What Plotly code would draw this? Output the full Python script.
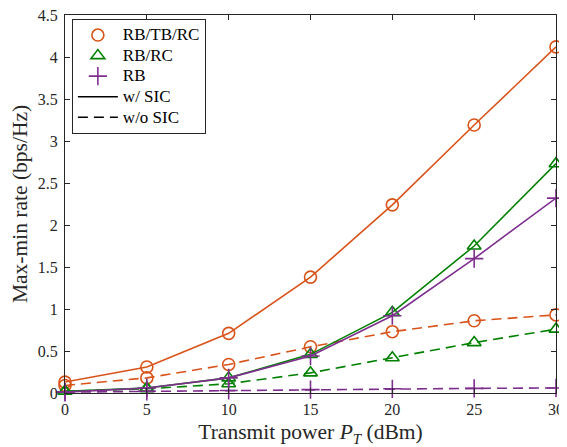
import plotly.graph_objects as go

power_dbm = [0, 5, 10, 15, 20, 25, 30]

rbtbrc_sic = [0.13, 0.31, 0.71, 1.38, 2.24, 3.19, 4.12]
rbtbrc_nosic = [0.09, 0.18, 0.34, 0.55, 0.73, 0.86, 0.93]
rbrc_sic = [0.02, 0.06, 0.18, 0.46, 0.96, 1.75, 2.73]
rbrc_nosic = [0.02, 0.05, 0.11, 0.24, 0.42, 0.60, 0.76]
rb_sic = [0.01, 0.06, 0.18, 0.44, 0.92, 1.60, 2.32]
rb_nosic = [0.01, 0.02, 0.03, 0.04, 0.05, 0.055, 0.06]

schemes = ["RB/TB/RC", "RB/RC", "RB"]
sic_labels = ["w/ SIC", "w/o SIC"]

colors = ["#D95319", "#008000", "#7E2F8E"]
symbols = ["circle-open", "triangle-up-open", "cross-thin-open"]
sizes = [12, 12, 13]

series = [(rbtbrc_sic, rbtbrc_nosic), (rbrc_sic, rbrc_nosic), (rb_sic, rb_nosic)]

SERIF = "Times New Roman"
DASH = "10px,6px"


def legend_label(txt):
    return '<span style="font-size:17px">' + txt + '</span>'


fig = go.Figure()
for (s, ns), c, sym, sz in zip(series, colors, symbols, sizes):
    for vals, dash in ((s, "solid"), (ns, DASH)):
        fig.add_trace(go.Scatter(
            x=power_dbm, y=vals, mode="lines+markers",
            line=dict(color=c, width=1.6, dash=dash),
            marker=dict(symbol=sym, size=sz, color=c, line=dict(color=c, width=1.6)),
            showlegend=False, cliponaxis=False))

for name, c, sym, sz in zip(schemes, colors, symbols, sizes):
    fig.add_trace(go.Scatter(
        x=[None], y=[None], mode="markers", name=legend_label(name),
        marker=dict(symbol=sym, size=sz, color=c, line=dict(color=c, width=1.6))))
for name, dash in zip(sic_labels, ["solid", DASH]):
    fig.add_trace(go.Scatter(
        x=[None], y=[None], mode="lines", name=legend_label(name),
        line=dict(color="black", width=1.6, dash=dash)))

axis_common = dict(
    showline=True, linecolor="#262626", linewidth=1, mirror="ticks",
    ticks="inside", ticklen=5, tickcolor="#262626", showgrid=False, zeroline=False,
    automargin=False, ticklabeloverflow="allow",
    tickfont=dict(family=SERIF, size=16, color="#262626"),
)

# page body has an 8px default margin, so the figure is reduced by that offset
fig.update_layout(
    width=559, height=439,
    margin=dict(l=57, r=11, t=7, b=54),
    paper_bgcolor="white", plot_bgcolor="white",
    font=dict(family=SERIF, color="#262626"),
    xaxis=dict(range=[0, 30], tickvals=power_dbm,
               title=dict(text="Transmit power <i>P</i><sub><i>T</i></sub> (dBm)",
                          font=dict(family=SERIF, size=21.5), standoff=9),
               ticklabelstandoff=2,
               **axis_common),
    yaxis=dict(range=[0, 4.5], tickvals=[0, 0.5, 1, 1.5, 2, 2.5, 3, 3.5, 4, 4.5],
               ticktext=["0", "0.5", "1", "1.5", "2", "2.5", "3", "3.5", "4", "4.5"],
               title=dict(text="Max-min rate (bps/Hz)", font=dict(family=SERIF, size=21.5), standoff=4),
               ticklabelstandoff=3,
               **axis_common),
    legend=dict(x=0.014, y=0.99, xanchor="left", yanchor="top",
                bgcolor="white", bordercolor="#262626", borderwidth=1,
                font=dict(family=SERIF, size=13.5, color="black"),
                tracegroupgap=0, itemwidth=40),
)

fig.write_html("out.html")
